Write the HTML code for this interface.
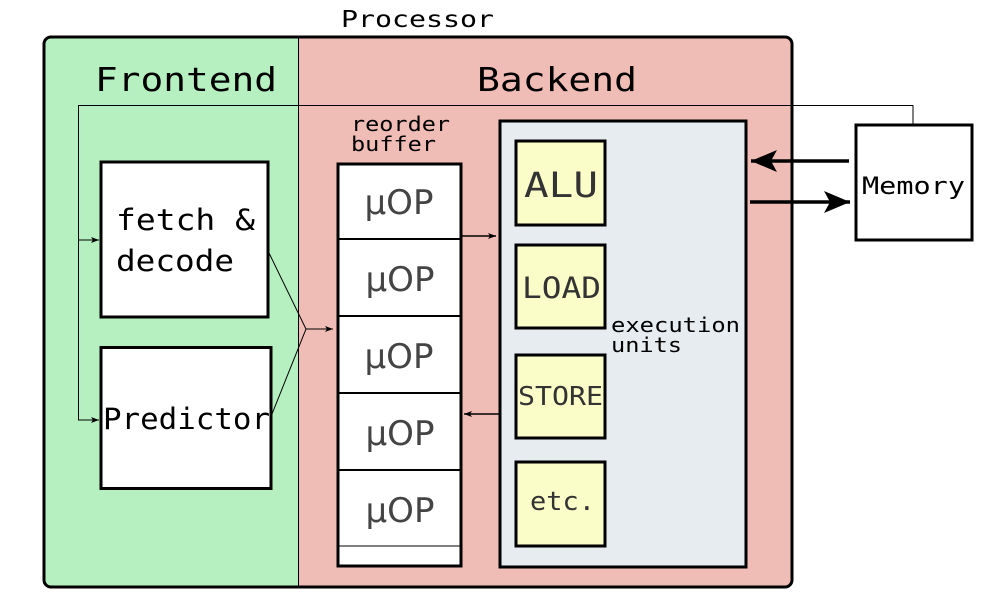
<!DOCTYPE html>
<html><head><meta charset="utf-8"><style>
html,body{margin:0;padding:0;background:#fff;}
svg{display:block;}
.m{font-family:"DejaVu Sans Mono","Liberation Mono",monospace;}
.s{font-family:"DejaVu Sans","Liberation Sans",sans-serif;}
</style></head><body>
<svg width="1000" height="600" viewBox="0 0 1000 600" xmlns="http://www.w3.org/2000/svg">
<defs>
<marker id="a" markerWidth="8" markerHeight="6" refX="8" refY="3" orient="auto" markerUnits="userSpaceOnUse"><path d="M0,0 L8,3 L0,6 L2,3 z" fill="#000"/></marker>
<marker id="b" markerWidth="28" markerHeight="22" refX="26" refY="11" orient="auto" markerUnits="userSpaceOnUse"><path d="M0,0 L26,11 L0,22 L6,11 z" fill="#000"/></marker>
</defs>
<text x="341" y="27" class="m" font-size="23" textLength="153" lengthAdjust="spacingAndGlyphs">Processor</text>
<path d="M298,37 H785 a7,7 0 0 1 7,7 V580 a7,7 0 0 1 -7,7 H298 z" fill="#f0bcb6"/>
<path d="M298,37 H51 a7,7 0 0 0 -7,7 V580 a7,7 0 0 0 7,7 H298 z" fill="#b6f0c0"/>
<rect x="44" y="37" width="748" height="550" rx="7" fill="none" stroke="#000" stroke-width="3"/>
<line x1="298.5" y1="37" x2="298.5" y2="587" stroke="#000" stroke-width="1"/>
<text x="95" y="91" class="m" font-size="33" textLength="182" lengthAdjust="spacingAndGlyphs">Frontend</text>
<text x="477" y="91" class="m" font-size="33" textLength="160" lengthAdjust="spacingAndGlyphs">Backend</text>
<polyline points="913,124 913,105.5 78.5,105.5 78.5,420" fill="none" stroke="#000" stroke-width="1"/>
<line x1="78" y1="240" x2="99" y2="240" stroke="#000" stroke-width="1" marker-end="url(#a)"/>
<line x1="78" y1="420" x2="99" y2="420" stroke="#000" stroke-width="1" marker-end="url(#a)"/>
<rect x="101" y="162" width="167" height="155" fill="#fff" stroke="#000" stroke-width="3"/>
<text x="116" y="230" class="m" font-size="29" textLength="139" lengthAdjust="spacingAndGlyphs">fetch &amp;</text>
<text x="116" y="271" class="m" font-size="29" textLength="118" lengthAdjust="spacingAndGlyphs">decode</text>
<rect x="101" y="347.5" width="170" height="141" fill="#fff" stroke="#000" stroke-width="3"/>
<text x="103" y="429" class="m" font-size="29" textLength="167" lengthAdjust="spacingAndGlyphs">Predictor</text>
<polyline points="269,253 306,329 272,414" fill="none" stroke="#000" stroke-width="1"/>
<line x1="306" y1="329" x2="333" y2="329" stroke="#000" stroke-width="1" marker-end="url(#a)"/>
<text x="351" y="131" class="m" font-size="20" textLength="99" lengthAdjust="spacingAndGlyphs">reorder</text>
<text x="351" y="151" class="m" font-size="20" textLength="85" lengthAdjust="spacingAndGlyphs">buffer</text>
<rect x="338" y="164" width="123" height="402" fill="#fff" stroke="#000" stroke-width="3"/>
<g stroke="#000" stroke-width="2"><line x1="338" y1="239" x2="461" y2="239"/><line x1="338" y1="316" x2="461" y2="316"/><line x1="338" y1="393" x2="461" y2="393"/><line x1="338" y1="470" x2="461" y2="470"/></g>
<line x1="338" y1="546" x2="461" y2="546" stroke="#000" stroke-width="1"/>
<g class="s" font-size="34" fill="#444" text-anchor="middle">
<text x="399" y="214">μOP</text><text x="400" y="291">μOP</text><text x="399" y="368">μOP</text><text x="400" y="445">μOP</text><text x="400" y="522">μOP</text>
</g>
<line x1="462" y1="236" x2="496" y2="236" stroke="#000" stroke-width="1.5" marker-end="url(#a)"/>
<line x1="499" y1="414" x2="464" y2="414" stroke="#000" stroke-width="1.5" marker-end="url(#a)"/>
<rect x="500" y="121" width="246" height="446" fill="#e6ecef" stroke="#000" stroke-width="3"/>
<g fill="#fbfdc8" stroke="#000" stroke-width="3">
<rect x="516" y="141" width="89" height="84"/><rect x="516" y="245" width="89" height="83"/><rect x="516" y="355" width="89" height="83"/><rect x="516" y="462" width="89" height="84"/>
</g>
<g class="m" fill="#333">
<text x="524" y="197" font-size="35" textLength="74" lengthAdjust="spacingAndGlyphs">ALU</text>
<text x="522" y="298" font-size="29" textLength="79" lengthAdjust="spacingAndGlyphs">LOAD</text>
<text x="518" y="405" font-size="26" textLength="85" lengthAdjust="spacingAndGlyphs">STORE</text>
<text x="530" y="510" font-size="26" textLength="65" lengthAdjust="spacingAndGlyphs">etc.</text>
</g>
<text x="611" y="332" class="m" font-size="20" textLength="129" lengthAdjust="spacingAndGlyphs">execution</text>
<text x="611" y="352" class="m" font-size="20" textLength="71" lengthAdjust="spacingAndGlyphs">units</text>
<rect x="856" y="125" width="116" height="115" fill="#fff" stroke="#000" stroke-width="3"/>
<text x="862" y="194" class="m" font-size="24" textLength="103" lengthAdjust="spacingAndGlyphs">Memory</text>
<line x1="849" y1="161" x2="751" y2="161" stroke="#000" stroke-width="3.5" marker-end="url(#b)"/>
<line x1="750" y1="202" x2="850" y2="202" stroke="#000" stroke-width="3.5" marker-end="url(#b)"/>
</svg>
</body></html>
